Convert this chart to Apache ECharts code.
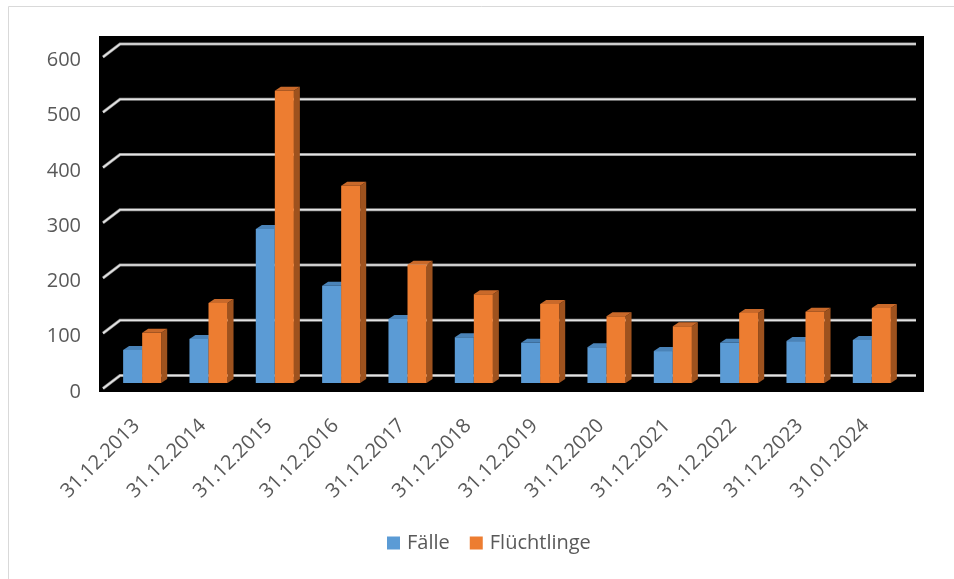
<!DOCTYPE html>
<html>
<head>
<meta charset="utf-8">
<script src="https://cdn.jsdelivr.net/npm/echarts@6/dist/echarts.min.js"></script>
<style>
html,body{margin:0;padding:0;background:#fff;}
#chart{width:954px;height:579px;}
</style>
</head>
<body>
<div id="chart"></div>
<script>
var categories = ['31.12.2013','31.12.2014','31.12.2015','31.12.2016','31.12.2017','31.12.2018','31.12.2019','31.12.2020','31.12.2021','31.12.2022','31.12.2023','31.01.2024'];
var faelle = [58, 78, 277, 174, 114, 81, 71, 63, 56, 71, 74, 76];
var fluechtlinge = [89, 143, 527, 355, 212, 159, 141, 119, 101, 125, 127, 134];
var yTicks = [0, 100, 200, 300, 400, 500, 600];

var FONT = '"Open Sans", "Liberation Sans", sans-serif';
var TXT = '#595959';

function barRenderer(side, front, top, sideColor) {
  return function (params, api) {
    var idx = api.value(0);
    var val = api.value(1);
    var p = api.coord([idx, val]);
    var p0 = api.coord([idx, 0]);
    var band = api.size([1, 0])[0];
    var w = band * 0.287;
    var x0 = side < 0 ? p[0] - w : p[0];
    var x1 = x0 + w;
    var yt = p[1], yb = p0[1] + 1;
    var dx = 6, dy = 4;
    return {
      type: 'group',
      children: [
        { type: 'polygon', shape: { points: [[x1, yb], [x1 + dx, yb - dy], [x1 + dx, yt - dy], [x1, yt]] }, style: { fill: sideColor } },
        { type: 'polygon', shape: { points: [[x0, yt], [x0 + dx, yt - dy], [x1 + dx, yt - dy], [x1, yt]] }, style: { fill: top } },
        { type: 'rect', shape: { x: x0, y: yt, width: w, height: yb - yt }, style: { fill: front } }
      ]
    };
  };
}

var chart = echarts.init(document.getElementById('chart'), null, { renderer: 'canvas' });
chart.setOption({
  animation: false,
  backgroundColor: '#ffffff',
  textStyle: { fontFamily: FONT },
  graphic: [
    { type: 'polyline', z: -100, silent: true, shape: { points: [[8.5, 600], [8.5, 6.5], [960, 6.5]] }, style: { stroke: '#d9d9d9', lineWidth: 1, fill: null } }
  ],
  grid: { left: 109, right: 49, top: 50.5, bottom: 197, containLabel: false },
  legend: {
    bottom: 21,
    left: 382,
    icon: 'rect',
    itemWidth: 13,
    itemHeight: 13,
    itemGap: 20,
    textStyle: { fontFamily: FONT, fontSize: 20, color: TXT, padding: [0, 0, 0, 2] },
    data: ['Fälle', 'Flüchtlinge']
  },
  xAxis: {
    type: 'category',
    data: categories,
    axisLine: { show: false },
    axisTick: { show: false },
    axisLabel: { rotate: 45, margin: 35, padding: [0, 8, 0, 0], fontFamily: FONT, fontSize: 20, color: TXT, interval: 0 }
  },
  yAxis: {
    type: 'value',
    min: 0,
    max: 600,
    interval: 100,
    axisLine: { show: false },
    axisTick: { show: false },
    splitLine: { show: false },
    axisLabel: { margin: 28, fontFamily: FONT, fontSize: 20, color: TXT, verticalAlign: 'top', lineHeight: 20 }
  },
  series: [
    {
      name: 'walls',
      type: 'custom',
      z: 1,
      silent: true,
      data: yTicks.map(function (v) { return [0, v]; }),
      encode: { x: 0, y: 1 },
      renderItem: function (params, api) {
        var cs = params.coordSys;
        var v = api.value(1);
        var y = api.coord([0, v])[1];
        var children = [];
        if (params.dataIndex === 0) {
          children.push({ type: 'rect', shape: { x: cs.x - 10, y: cs.y - 14.5, width: cs.width + 29, height: cs.height + 24.5 }, style: { fill: '#000' } });
        }
        var pts = [[cs.x - 6, y + 6.5], [cs.x + 11, y - 6.5], [cs.x + cs.width + 11, y - 6.5]];
        children.push({ type: 'polyline', shape: { points: pts }, style: { stroke: '#8c8c8c', lineWidth: 3, fill: null } });
        children.push({ type: 'polyline', shape: { points: pts }, style: { stroke: '#e3e3e3', lineWidth: 1.6, fill: null } });
        return { type: 'group', children: children };
      }
    },
    {
      name: 'Fälle',
      type: 'custom',
      z: 2,
      itemStyle: { color: '#5B9BD5' },
      data: faelle.map(function (v, i) { return [i, v]; }),
      encode: { x: 0, y: 1 },
      renderItem: barRenderer(-1, '#5B9BD5', '#4A83B8', '#3F72A3')
    },
    {
      name: 'Flüchtlinge',
      type: 'custom',
      z: 3,
      itemStyle: { color: '#ED7D31' },
      data: fluechtlinge.map(function (v, i) { return [i, v]; }),
      encode: { x: 0, y: 1 },
      renderItem: barRenderer(1, '#ED7D31', '#C9692A', '#9E521E')
    }
  ]
});
</script>
</body>
</html>
